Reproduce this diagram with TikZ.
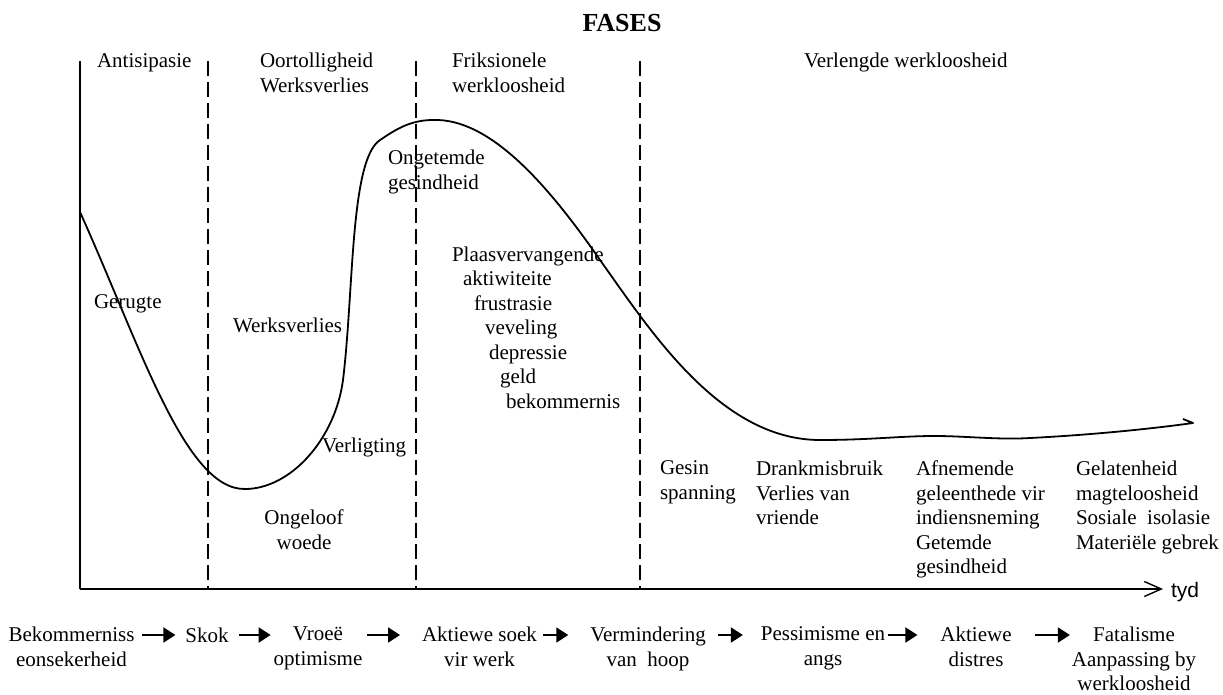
\documentclass[tikz,border=0pt]{standalone}
\usepackage{fontspec}
\setmainfont{Liberation Serif}
\newfontfamily\axisfont{Liberation Sans}
\usetikzlibrary{arrows.meta}
\begin{document}
\begin{tikzpicture}[x=1pt, y=-1pt,
  txt/.style={inner sep=0pt, outer sep=0pt, font=\fontsize{21}{24.5}\selectfont},
  struts/.style={execute at begin node={\rule{0pt}{15pt}}, execute at end node={\rule[-6pt]{0pt}{6pt}}},
  lefttxt/.style={txt, align=left, anchor=north west, struts},
  midtxt/.style={txt, align=center, anchor=north, struts},
  axisline/.style={line width=1.6pt},
  divider/.style={line width=1.6pt, dash pattern=on 15pt off 6pt},
  curve/.style={line width=1.8pt, line join=round},
  flow/.style={line width=1.8pt, -{Triangle[length=12pt, width=15pt]}}
]
\useasboundingbox (0,0) rectangle (1223,695);

% axes
\coordinate (O) at (80,589);
\coordinate (ytop) at (80,61);
\coordinate (xend) at (1163,589);
\draw[axisline] (ytop) -- (O);
\draw[axisline, -{Straight Barb[length=17pt, width=15pt, line width=1.4pt]}] (O) -- (xend);
\node[txt, anchor=base west, font=\fontsize{21}{24.5}\axisfont] (tyd) at (1171,597) {tyd};

% phase dividers
\foreach \x in {208,416,640}
  \draw[divider] (\x,61) -- (\x,589);

% title and phase names
\node[txt, anchor=base, font=\fontsize{26}{30}\selectfont\bfseries] (title) at (622,31.5) {FASES};
\node[txt, anchor=base west] (ph1) at (97,68) {Antisipasie};
\node[lefttxt] (ph2) at (260,53) {Oortolligheid\\Werksverlies};
\node[lefttxt] (ph3) at (452,53) {Friksionele\\werkloosheid};
\node[txt, anchor=base west] (ph4) at (804,68) {Verlengde werkloosheid};

% reaction curve
\draw[curve] (80,212)
  .. controls (140,345) and (185,490) .. (245,489)
  .. controls (290,489) and (335,440) .. (343,380)
  .. controls (354,290) and (350,160) .. (380,140)
  .. controls (395,130) and (410,120) .. (433,120)
  .. controls (490,118) and (548,185) .. (600,260)
  .. controls (650,330) and (720,440) .. (820,440)
  .. controls (870,440) and (900,436) .. (935,436)
  .. controls (965,436) and (1000,440) .. (1030,438)
  .. controls (1090,435) and (1150,429) .. (1193,423)
  -- (1183,419);

% labels along the curve
\node[txt, anchor=base west] (gerugte) at (94,308) {Gerugte};
\node[txt, anchor=base west] (werk) at (233,332) {Werksverlies};
\node[txt, anchor=base west] (verl) at (322,452) {Verligting};
\node[midtxt] (ongeloof) at (304,510) {Ongeloof\\woede};
\node[lefttxt] (ongetemde) at (388,150) {Ongetemde\\gesindheid};
\node[txt, anchor=base west] (pv1) at (452,261) {Plaasvervangende};
\node[txt, anchor=base west] (pv2) at (463,285.5) {aktiwiteite};
\node[txt, anchor=base west] (pv3) at (474,310) {frustrasie};
\node[txt, anchor=base west] (pv4) at (485,334.5) {veveling};
\node[txt, anchor=base west] (pv5) at (489,359) {depressie};
\node[txt, anchor=base west] (pv6) at (500,383.5) {geld};
\node[txt, anchor=base west] (pv7) at (506,408) {bekommernis};
\node[lefttxt] (gesin) at (660,461) {Gesin\\spanning};
\node[lefttxt] (drank) at (756,461) {Drankmisbruik\\Verlies van\\vriende};
\node[lefttxt] (afn) at (916,461) {Afnemende\\geleenthede vir\\indiensneming\\Getemde\\gesindheid};
\node[lefttxt] (gelat) at (1076,461) {Gelatenheid\\magteloosheid\\Sosiale\ \ isolasie\\Materiële gebrek};

% sequence of stages
\node[midtxt] (b1) at (71.5,627) {Bekommerniss\\eonsekerheid};
\node[midtxt] (b2) at (207,627) {Skok};
\node[midtxt] (b3) at (318,627) {Vroeë\\optimisme};
\node[midtxt] (b4) at (479.5,627) {Aktiewe soek\\vir werk};
\node[midtxt] (b5) at (648,627) {Vermindering\\van\ \ hoop};
\node[midtxt] (b6) at (823,627) {Pessimisme en\\angs};
\node[midtxt] (b7) at (976,627) {Aktiewe\\distres};
\node[midtxt] (b8) at (1134,627) {Fatalisme\\Aanpassing by\\werkloosheid};

\coordinate (row) at (0,635);
\draw[flow, shorten <=8pt, shorten >=10pt] (b1.east |- row) -- (b2.west |- row);
\draw[flow, shorten <=10pt, shorten >=3pt] (b2.east |- row) -- (b3.west |- row);
\draw[flow, shorten <=5pt, shorten >=22pt] (b3.east |- row) -- (b4.west |- row);
\draw[flow, shorten <=6pt, shorten >=22pt] (b4.east |- row) -- (b5.west |- row);
\draw[flow, shorten <=12pt, shorten >=18pt] (b5.east |- row) -- (b6.west |- row);
\draw[flow, shorten <=3pt, shorten >=23pt] (b6.east |- row) -- (b7.west |- row);
\draw[flow, shorten <=23pt, shorten >=2pt] (b7.east |- row) -- (b8.west |- row);
\end{tikzpicture}
\end{document}
